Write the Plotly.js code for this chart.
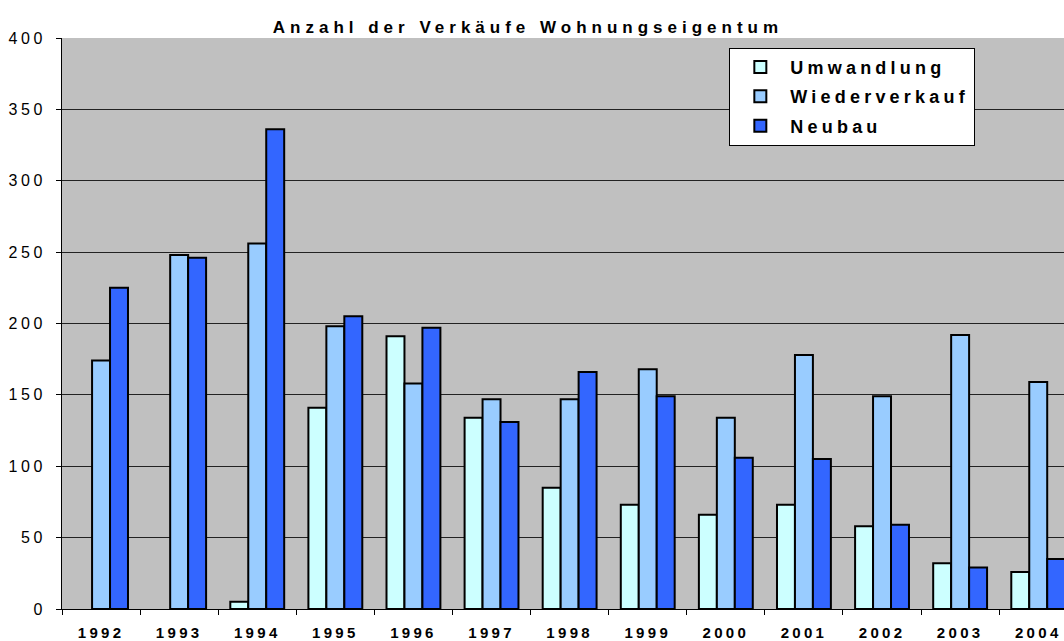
<!DOCTYPE html>
<html>
<head>
<meta charset="utf-8">
<script src="https://cdn.plot.ly/plotly-3.0.1.min.js"></script>
<style>
html,body{margin:0;padding:0;background:#fff;}
#chart{width:1064px;height:641px;}
.gtitle{letter-spacing:5px;}
.xtick text{letter-spacing:3.3px;}
.ytick text{letter-spacing:3.5px;}
.legendtext{letter-spacing:4.2px;}
</style>
</head>
<body>
<div id="chart"></div>
<script>
const years = ["1992","1993","1994","1995","1996","1997","1998","1999","2000","2001","2002","2003","2004"];
const umwandlung = [0, 0, 5, 141, 191, 134, 85, 73, 66, 73, 58, 32, 26];
const wiederverkauf = [174, 248, 256, 198, 158, 147, 147, 168, 134, 178, 149, 192, 159];
const neubau = [225, 246, 336, 205, 197, 131, 166, 149, 106, 105, 59, 29, 35];
const seriesNames = ["Umwandlung", "Wiederverkauf", "Neubau"];
const yTicks = [0, 50, 100, 150, 200, 250, 300, 350, 400];

const colors = ["#CCFFFF", "#99CCFF", "#3366FF"];
const values = [umwandlung, wiederverkauf, neubau];
const traces = values.map((v, i) => ({
  type: "bar",
  name: seriesNames[i],
  x: years,
  y: v.map(d => d === 0 ? null : d),
  legendgroup: "g" + i,
  marker: {color: colors[i], line: {color: "#000", width: 2}},
  hoverinfo: "x+y+name"
}));

const FONT = "Liberation Sans, Arial, sans-serif";
const layout = {
  width: 1064, height: 641,
  margin: {l: 62, r: 0, t: 38, b: 32},
  paper_bgcolor: "#ffffff",
  plot_bgcolor: "#C0C0C0",
  font: {family: FONT, color: "#000"},
  title: {
    text: "<b>Anzahl der Verkäufe Wohnungseigentum</b>",
    font: {size: 17, family: FONT, color: "#000"},
    x: 0.465, xref: "paper", xanchor: "center",
    y: 0.958, yref: "container", yanchor: "middle"
  },
  barmode: "group",
  bargap: 0.31,
  bargroupgap: 0,
  xaxis: {
    type: "category",
    range: [-0.5, 12.33],
    showgrid: false,
    showline: true, linecolor: "#000", linewidth: 1,
    ticks: "outside", ticklen: 5, tickcolor: "#000",
    tickson: "boundaries",
    tickfont: {size: 15, family: FONT},
    ticklabelstandoff: 10,
    tickvals: years, ticktext: years.map(y => "<b>" + y + "</b>"),
    fixedrange: true
  },
  yaxis: {
    range: [0, 400],
    tickvals: yTicks,
    ticktext: yTicks.map(String),
    showgrid: true, gridcolor: "#222", gridwidth: 1,
    showline: true, linecolor: "#000", linewidth: 1,
    ticks: "outside", ticklen: 5, tickcolor: "#000",
    tickfont: {size: 16, family: FONT},
    ticklabelstandoff: 7,
    zeroline: false,
    fixedrange: true
  },
  showlegend: true,
  legend: {
    x: 0.666, y: 0.983, xanchor: "left", yanchor: "top",
    xref: "paper", yref: "paper",
    bgcolor: "#ffffff", bordercolor: "#000", borderwidth: 1,
    traceorder: "grouped", tracegroupgap: 3,
    itemwidth: 50,
    font: {size: 18, family: FONT, weight: "bold"}
  }
};

Plotly.newPlot("chart", traces, layout, {displayModeBar: false, responsive: false});
</script>
</body>
</html>
